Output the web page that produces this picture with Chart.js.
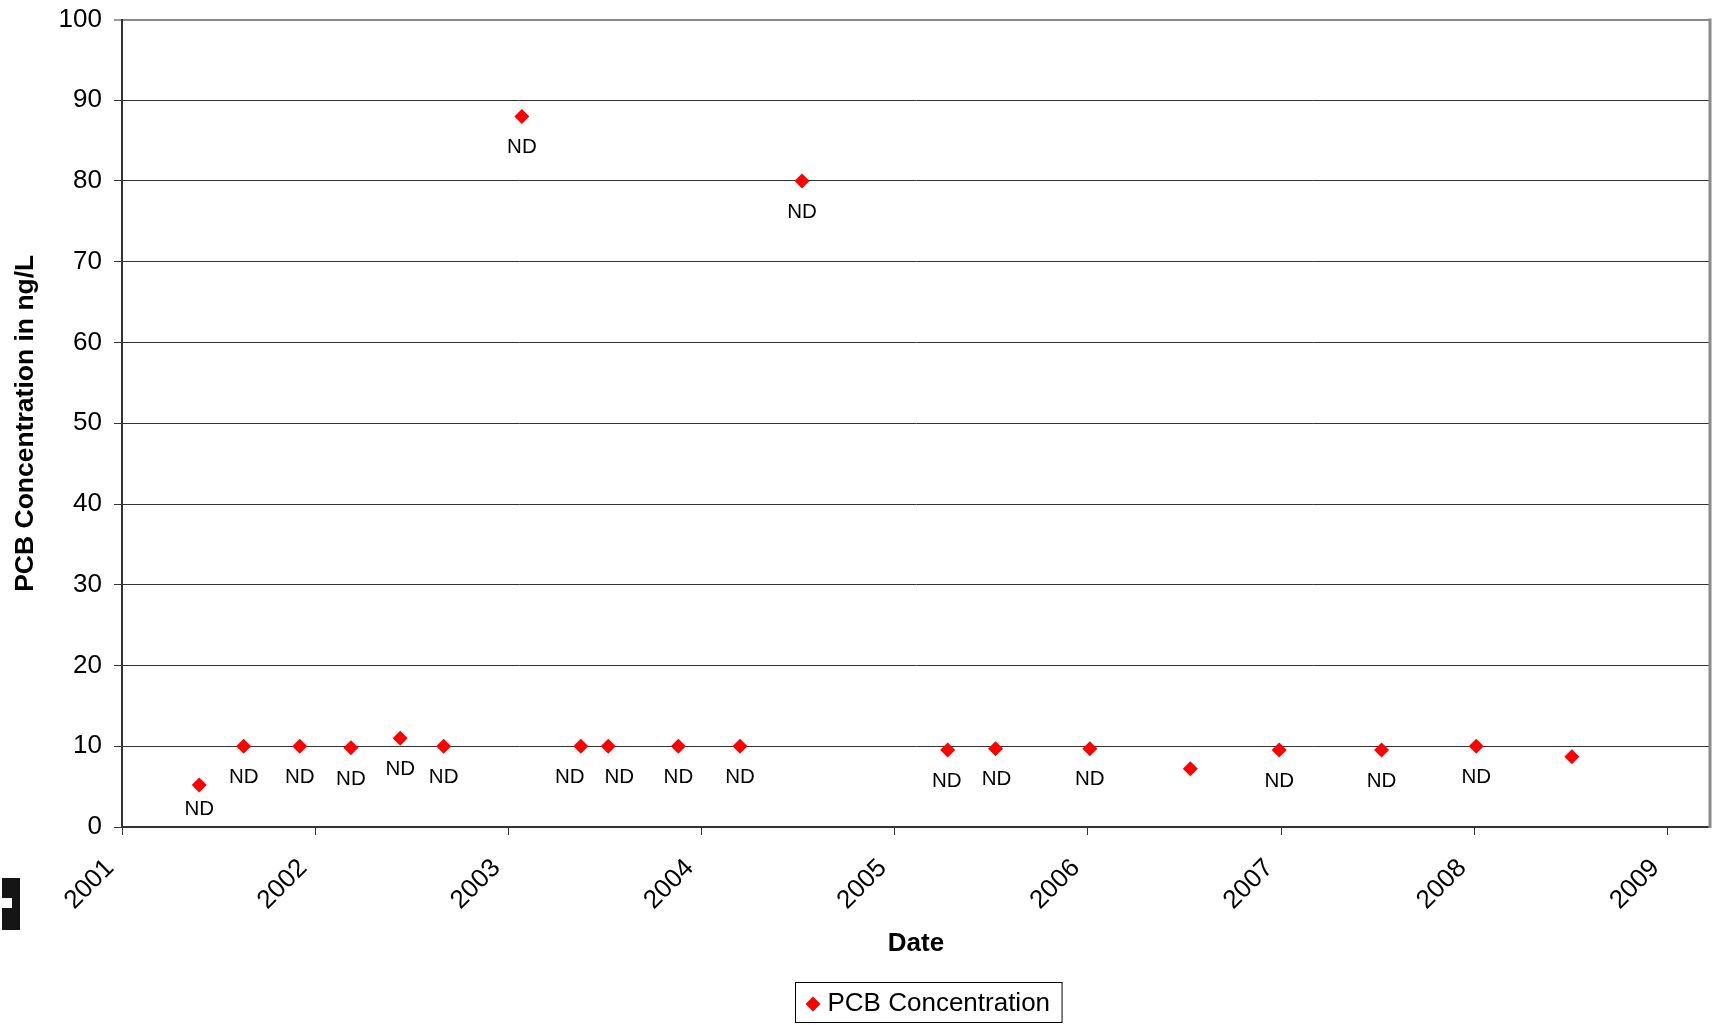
<!DOCTYPE html>
<html><head><meta charset="utf-8">
<script src="https://cdn.jsdelivr.net/npm/chart.js@4.4.0/dist/chart.umd.min.js"></script>
<style>html,body{margin:0;padding:0;background:#fff;overflow:hidden}#wrap{width:1724px;height:1025px;position:relative}</style>
</head><body><div id="wrap"><canvas id="c" width="1724" height="1025"></canvas></div>
<script>
// ---- data ----
const sampleDates = [2001.40, 2001.63, 2001.92, 2002.185, 2002.44, 2002.665, 2003.07, 2003.375, 2003.517, 2003.88, 2004.199, 2004.52, 2005.274, 2005.522, 2006.01, 2006.53, 2006.99, 2007.52, 2008.01, 2008.505];
const pcbValues   = [5.2, 10, 10, 9.8, 11, 10, 88, 10, 10, 10, 10, 80, 9.55, 9.7, 9.7, 7.2, 9.55, 9.55, 10, 8.7];
const pointLabels = ['ND','ND','ND','ND','ND','ND','ND','ND','ND','ND','ND','ND','ND','ND','ND','','ND','ND','ND',''];
const yearTicks = [2001, 2002, 2003, 2004, 2005, 2006, 2007, 2008, 2009];
const yTickValues = [0, 10, 20, 30, 40, 50, 60, 70, 80, 90, 100];
const seriesName = 'PCB Concentration';
const xTitle = 'Date';
const yTitle = 'PCB Concentration in ng/L';

const FONT = '"Liberation Sans", Arial, sans-serif';
const RED = '#ff0000';

const ndLabels = {
  id: 'ndLabels',
  afterDatasetsDraw(chart) {
    const ctx = chart.ctx;
    const meta = chart.getDatasetMeta(0);
    const bottom = chart.chartArea.bottom;
    ctx.save();
    ctx.font = '20.5px ' + FONT;
    ctx.fillStyle = '#000';
    ctx.textAlign = 'center';
    ctx.textBaseline = 'middle';
    const items = [];
    meta.data.forEach((el, i) => {
      if (!pointLabels[i]) return;
      const w = ctx.measureText(pointLabels[i]).width;
      items.push({ t: pointLabels[i], x: el.x, y: Math.min(el.y + 31, bottom - 18), w });
    });
    for (let k = 1; k < items.length; k++) {
      const a = items[k - 1], b = items[k];
      if (Math.abs(a.y - b.y) < 5) {
        const need = (a.w + b.w) / 2 + 20;
        const gap = b.x - a.x;
        if (gap < need) {
          const d = (need - gap) / 2;
          a.x -= d; b.x += d;
        }
      }
    }
    items.forEach(it => ctx.fillText(it.t, it.x, it.y));
    ctx.restore();
  }
};

const frame = {
  id: 'frame',
  afterDraw(chart) {
    const ctx = chart.ctx;
    const a = chart.chartArea;
    ctx.save();
    ctx.strokeStyle = '#8a8a8a';
    ctx.lineWidth = 3;
    ctx.beginPath();
    ctx.moveTo(a.right, a.top - 1);
    ctx.lineTo(a.right, a.bottom + 1);
    ctx.stroke();
    // legend box
    ctx.font = '26px ' + FONT;
    const tw = ctx.measureText(seriesName).width;
    const boxW = 10 + 15 + 7 + tw + 12;
    const cx = 928.5;
    const bx = Math.round(cx - boxW / 2) + 0.5, by = 982.5, bh = 40;
    ctx.fillStyle = '#fff';
    ctx.fillRect(bx, by, boxW, bh);
    ctx.strokeStyle = '#000';
    ctx.lineWidth = 1;
    ctx.strokeRect(bx, by, boxW, bh);
    const dx = bx + 10 + 7.5, dy = by + 21.5;
    ctx.fillStyle = RED;
    ctx.beginPath();
    ctx.moveTo(dx - 7.5, dy); ctx.lineTo(dx, dy - 7.5); ctx.lineTo(dx + 7.5, dy); ctx.lineTo(dx, dy + 7.5);
    ctx.closePath(); ctx.fill();
    ctx.fillStyle = '#000';
    ctx.textAlign = 'left';
    ctx.textBaseline = 'middle';
    ctx.fillText(seriesName, bx + 10 + 15 + 7, by + 21);
    // small black artifact at far left
    ctx.fillStyle = '#151515';
    ctx.fillRect(2, 878, 18, 52);
    ctx.fillStyle = '#fff';
    ctx.fillRect(0, 898, 12, 10);
    ctx.restore();
  }
};

new Chart(document.getElementById('c'), {
  type: 'scatter',
  data: {
    datasets: [{
      label: seriesName,
      data: sampleDates.map((d, i) => ({ x: d, y: pcbValues[i] })),
      pointStyle: 'rectRot',
      pointRadius: 7.5,
      pointHoverRadius: 7.5,
      backgroundColor: RED,
      borderColor: RED,
      borderWidth: 0,
      showLine: false
    }]
  },
  options: {
    responsive: false,
    animation: false,
    devicePixelRatio: 1,
    layout: { padding: { top: 19.5, right: 14, bottom: 64, left: 0 } },
    plugins: { legend: { display: false }, tooltip: { enabled: false } },
    scales: {
      x: {
        type: 'linear',
        position: 'bottom',
        min: 2001,
        max: 2009.22,
        afterBuildTicks: s => { s.ticks = yearTicks.map(v => ({ value: v })); },
        afterFit: s => { s.height = 134; s.paddingLeft = 0; s.paddingRight = 0; },
        ticks: {
          minRotation: 45, maxRotation: 45, autoSkip: false,
          color: '#000', font: { family: FONT, size: 26 }, padding: 18, labelOffset: -12,
          callback: v => String(v)
        },
        grid: { drawOnChartArea: false, drawTicks: true, tickLength: 8, tickColor: '#333', tickWidth: 1 },
        border: { color: '#333', width: 2 },
        title: { display: true, text: xTitle, color: '#000', font: { family: FONT, size: 26, weight: 'bold' }, padding: { top: 0, bottom: 2 } }
      },
      y: {
        min: 0,
        max: 100,
        afterBuildTicks: s => { s.ticks = yTickValues.map(v => ({ value: v })); },
        afterFit: s => { s.width = 122; s.paddingTop = 0; s.paddingBottom = 0; },
        ticks: { color: '#000', font: { family: FONT, size: 26 }, padding: 12 },
        grid: {
          color: c => (c.tick && c.tick.value === 100) ? '#8a8a8a' : '#333',
          lineWidth: c => (c.tick && c.tick.value === 100) ? 2 : 1,
          tickLength: 8, tickColor: '#333', tickWidth: 1
        },
        border: { color: '#333', width: 2 },
        title: { display: true, text: yTitle, color: '#000', font: { family: FONT, size: 26.5, weight: 'bold' }, padding: { top: 10, bottom: 0 } }
      }
    }
  },
  plugins: [ndLabels, frame]
});
</script>
</body></html>
